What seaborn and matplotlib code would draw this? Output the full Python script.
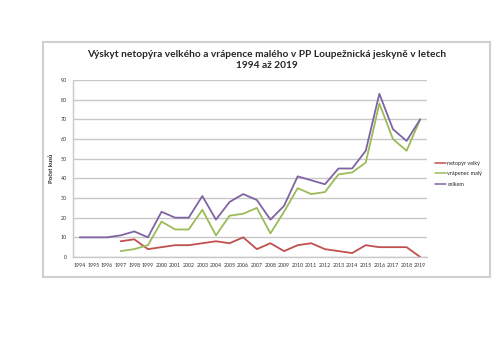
import numpy as np
import pandas as pd
import matplotlib
matplotlib.use('Agg')
import matplotlib.pyplot as plt
import seaborn as sns

# Data
years = list(range(1994, 2020))
netopyr_velky = [np.nan, np.nan, np.nan, 8, 9, 4, 5, 6, 6, 7, 8, 7, 10, 4, 7, 3, 6, 7, 4, 3, 2, 6, 5, 5, 5, 0]
vrapenec_maly = [np.nan, np.nan, np.nan, 3, 4, 6, 18, 14, 14, 24, 11, 21, 22, 25, 12, 23, 35, 32, 33, 42, 43, 48, 78, 60, 54, 70]
celkem = [10, 10, 10, 11, 13, 10, 23, 20, 20, 31, 19, 28, 32, 29, 19, 26, 41, 39, 37, 45, 45, 54, 83, 65, 59, 70]

series = ['netopýr velký', 'vrápenec malý', 'celkem']
colors = ['#C0504D', '#9BBB59', '#8064A2']

df = pd.DataFrame({'rok': [str(y) for y in years],
                   'netopýr velký': netopyr_velky,
                   'vrápenec malý': vrapenec_maly,
                   'celkem': celkem})
df['pos'] = np.arange(len(years))
long = df.melt(id_vars=['rok', 'pos'], value_vars=series, var_name='druh', value_name='pocet')

sns.set_style("white")
plt.rcParams['font.family'] = ['Lato', 'DejaVu Sans']

W, H = 500, 354
fig = plt.figure(figsize=(5, 3.54), dpi=100)

def px_axes(x0, y0, x1, y1, **kw):
    # pixel box (top-left origin) -> figure axes
    return fig.add_axes([x0 / W, 1 - y1 / H, (x1 - x0) / W, (y1 - y0) / H], **kw)

# outer chart frame
frame = px_axes(43, 42, 490, 277)
frame.set_xticks([])
frame.set_yticks([])
frame.patch.set_alpha(0)
for s in frame.spines.values():
    s.set_color('#D0D0D0')
    s.set_linewidth(1.5)

ax = px_axes(73, 80, 427, 257)

sns.lineplot(data=long, x='pos', y='pocet', hue='druh', palette=colors,
             hue_order=series, ax=ax, linewidth=1.3, legend=True)

ax.set_xlim(-0.5, len(years) - 0.5)
ax.set_ylim(0, 90)
ax.set_yticks(range(0, 91, 10))
ax.set_xticks(df['pos'])
ax.set_xticklabels(df['rok'])
ax.tick_params(axis='both', labelsize=3.8, length=0, pad=4.5, colors='#333333')
ax.yaxis.grid(True, color='#C8C8C8', linewidth=1.0)
ax.xaxis.grid(False)
for s in ['top', 'right']:
    ax.spines[s].set_visible(False)
for s in ['left', 'bottom']:
    ax.spines[s].set_color('#C8C8C8')
    ax.spines[s].set_linewidth(1.0)
ax.set_xlabel('')
ax.set_ylabel('Počet kusů', fontsize=4.2, fontweight='bold', labelpad=5)

leg = ax.legend(loc='center left', bbox_to_anchor=(1.023, 0.47), frameon=False,
                fontsize=4.0, handlelength=2.0, handletextpad=0.2, labelspacing=1.0,
                borderaxespad=0, borderpad=0)
for line in leg.get_lines():
    line.set_linewidth(1.1)

fig.text(267 / W, 1 - 60 / H,
         'Výskyt netopýra velkého a vrápence malého v PP Loupežnická jeskyně v letech\n1994 až 2019',
         ha='center', va='center', fontsize=7.3, fontweight='bold', linespacing=1.35)

fig.savefig('out.png', dpi=100)
